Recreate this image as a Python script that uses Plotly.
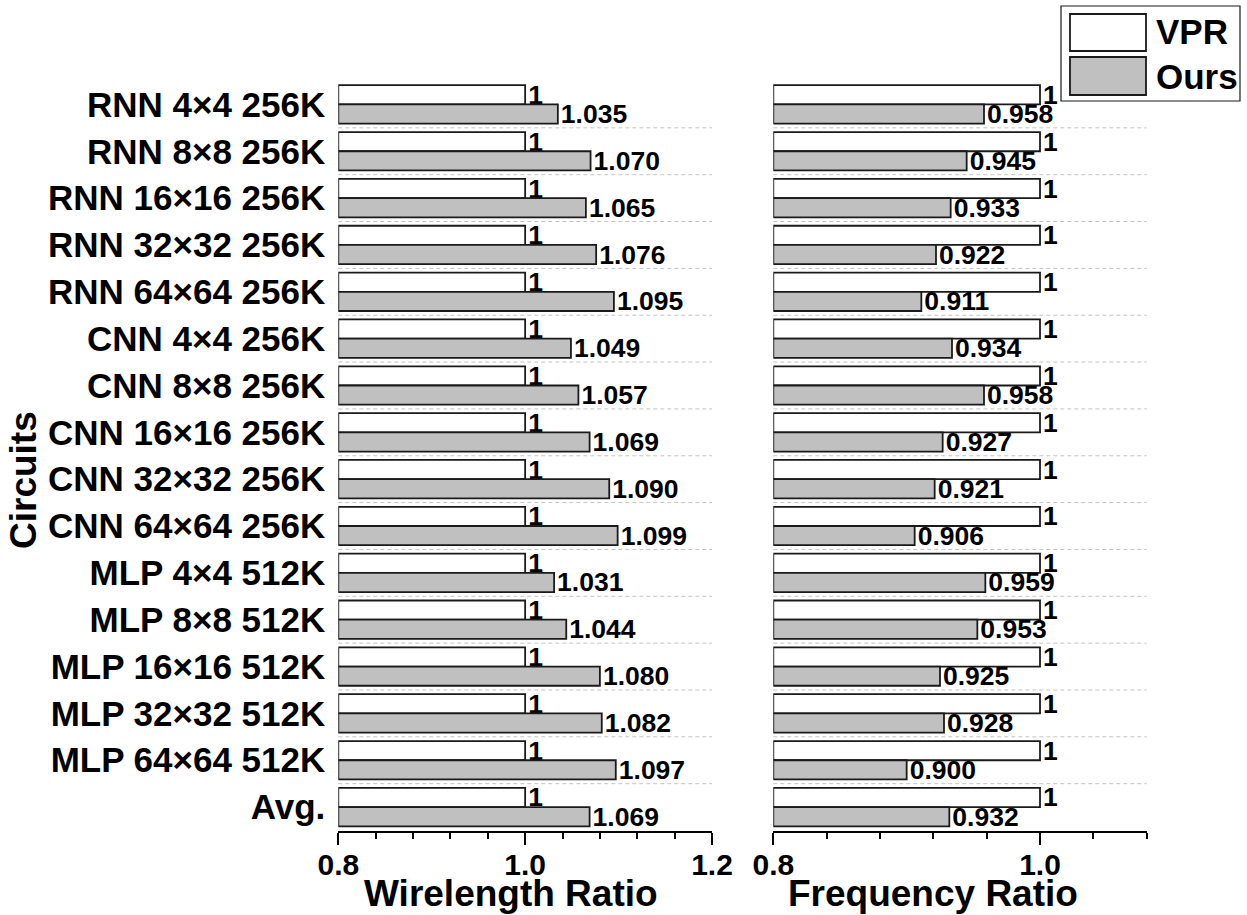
import plotly.graph_objects as go

# ---- data -------------------------------------------------------------
circuits = [
    "RNN 4×4 256K", "RNN 8×8 256K", "RNN 16×16 256K", "RNN 32×32 256K",
    "RNN 64×64 256K", "CNN 4×4 256K", "CNN 8×8 256K", "CNN 16×16 256K",
    "CNN 32×32 256K", "CNN 64×64 256K", "MLP 4×4 512K", "MLP 8×8 512K",
    "MLP 16×16 512K", "MLP 32×32 512K", "MLP 64×64 512K", "Avg.",
]
vpr_wirelength = [1, 1, 1, 1, 1, 1, 1, 1, 1, 1, 1, 1, 1, 1, 1, 1]
ours_wirelength = [1.035, 1.070, 1.065, 1.076, 1.095, 1.049, 1.057, 1.069,
                   1.090, 1.099, 1.031, 1.044, 1.080, 1.082, 1.097, 1.069]
vpr_frequency = [1, 1, 1, 1, 1, 1, 1, 1, 1, 1, 1, 1, 1, 1, 1, 1]
ours_frequency = [0.958, 0.945, 0.933, 0.922, 0.911, 0.934, 0.958, 0.927,
                  0.921, 0.906, 0.959, 0.953, 0.925, 0.928, 0.900, 0.932]

series_names = ["VPR", "Ours"]
x_titles = ["Wirelength Ratio", "Frequency Ratio"]
y_title = "Circuits"
axis_start = 0.8

# ---- styling ----------------------------------------------------------
W, H = 1247, 915
FONT = "Liberation Sans, Arial, sans-serif"
EDGE = "#1a1a1a"
FILLS = {"VPR": "#ffffff", "Ours": "#c0c0c0"}


def px(x):
    return x / W


def py(y):
    return 1 - y / H


fig = go.Figure()


def add_pair(vpr, ours, xa, ya):
    for name, vals, fmt in ((series_names[0], vpr, "{:g}"),
                            (series_names[1], ours, "{:.3f}")):
        fig.add_trace(go.Bar(
            name=name,
            y=circuits,
            x=[v - axis_start for v in vals],
            base=axis_start,
            orientation="h",
            marker=dict(color=FILLS[name], line=dict(color=EDGE, width=1.8)),
            text=[fmt.format(v) for v in vals],
            textposition="outside",
            constraintext="none",
            cliponaxis=False,
            textfont=dict(family=FONT, size=26.5, color="black", weight="bold"),
            xaxis=xa, yaxis=ya,
            showlegend=False,
        ))


add_pair(vpr_wirelength, ours_wirelength, "x", "y")
add_pair(vpr_frequency, ours_frequency, "x2", "y2")

# plot area in pixels
left_dom = (338.3, 712.0)
right_dom = (773.3, 1146.7)
top_px, bot_px = 81.0, 830.5

xaxis_common = dict(
    showgrid=False, zeroline=False, showline=True, linecolor="black",
    linewidth=2, ticks="outside", ticklen=12, tickwidth=2, tickcolor="black",
    dtick=0.2, tick0=0.8, tickformat=".1f", ticklabelstandoff=-6,
    tickfont=dict(family=FONT, size=30, color="black", weight="bold"),
    minor=dict(dtick=0.04, tick0=0.8, ticks="outside", ticklen=6,
               tickwidth=2, tickcolor="black", showgrid=False),
    automargin=False, fixedrange=True,
)
yaxis_common = dict(
    type="category", categoryorder="array", categoryarray=circuits,
    range=[len(circuits) - 0.5, -0.5], showgrid=False, zeroline=False,
    showline=False, ticks="", automargin=False, fixedrange=True,
)

fig.update_layout(
    width=W, height=H,
    margin=dict(l=0, r=0, t=0, b=0),
    paper_bgcolor="white", plot_bgcolor="white",
    barmode="group", bargap=0.18, bargroupgap=0.0,
    xaxis=dict(xaxis_common, domain=[px(left_dom[0]), px(left_dom[1])],
               range=[0.8, 1.2], anchor="y"),
    xaxis2=dict(xaxis_common, domain=[px(right_dom[0]), px(right_dom[1])],
                range=[0.8, 1.08], anchor="y2"),
    yaxis=dict(yaxis_common, domain=[py(bot_px), py(top_px)], anchor="x",
               ticklabelstandoff=12,
               tickfont=dict(family=FONT, size=35, color="black",
                             weight="bold")),
    yaxis2=dict(yaxis_common, domain=[py(bot_px), py(top_px)], anchor="x2",
                showticklabels=False),
    font=dict(family=FONT, color="black"),
)

# dashed separators between circuits
shapes = []
for xr, yr in (("x domain", "y"), ("x2 domain", "y2")):
    for i in range(len(circuits) - 1):
        shapes.append(dict(
            type="line", xref=xr, yref=yr, x0=0, x1=1, y0=i + 0.5, y1=i + 0.5,
            line=dict(color="#c4c4c4", width=1, dash="4px,3px"), layer="below",
        ))

# legend box with large swatches
shapes.append(dict(type="rect", xref="paper", yref="paper",
                   x0=px(1061), x1=px(1240), y0=py(101), y1=py(6),
                   line=dict(color=EDGE, width=1.2), fillcolor="white"))
legend_rows = [(series_names[0], 14, 51, 32), (series_names[1], 57, 95, 76)]
annotations = []
for name, y0, y1, yc in legend_rows:
    shapes.append(dict(type="rect", xref="paper", yref="paper",
                       x0=px(1070), x1=px(1146), y0=py(y1), y1=py(y0),
                       line=dict(color=EDGE, width=1.8),
                       fillcolor=FILLS[name]))
    annotations.append(dict(
        text=name, xref="paper", yref="paper", x=px(1154), y=py(yc),
        xanchor="left", yanchor="middle", showarrow=False,
        font=dict(family=FONT, size=35, color="black", weight="bold"),
    ))

# axis titles
for title, xc in zip(x_titles, (511, 933)):
    annotations.append(dict(
        text=title, xref="paper", yref="paper", x=px(xc), y=py(893),
        xanchor="center", yanchor="middle", showarrow=False,
        font=dict(family=FONT, size=37, color="black", weight="bold"),
    ))
annotations.append(dict(
    text=y_title, xref="paper", yref="paper", x=px(23), y=py(480),
    xanchor="center", yanchor="middle", showarrow=False, textangle=-90,
    font=dict(family=FONT, size=37, color="black", weight="bold"),
))

fig.update_layout(shapes=shapes, annotations=annotations)

fig.write_html("out.html")
